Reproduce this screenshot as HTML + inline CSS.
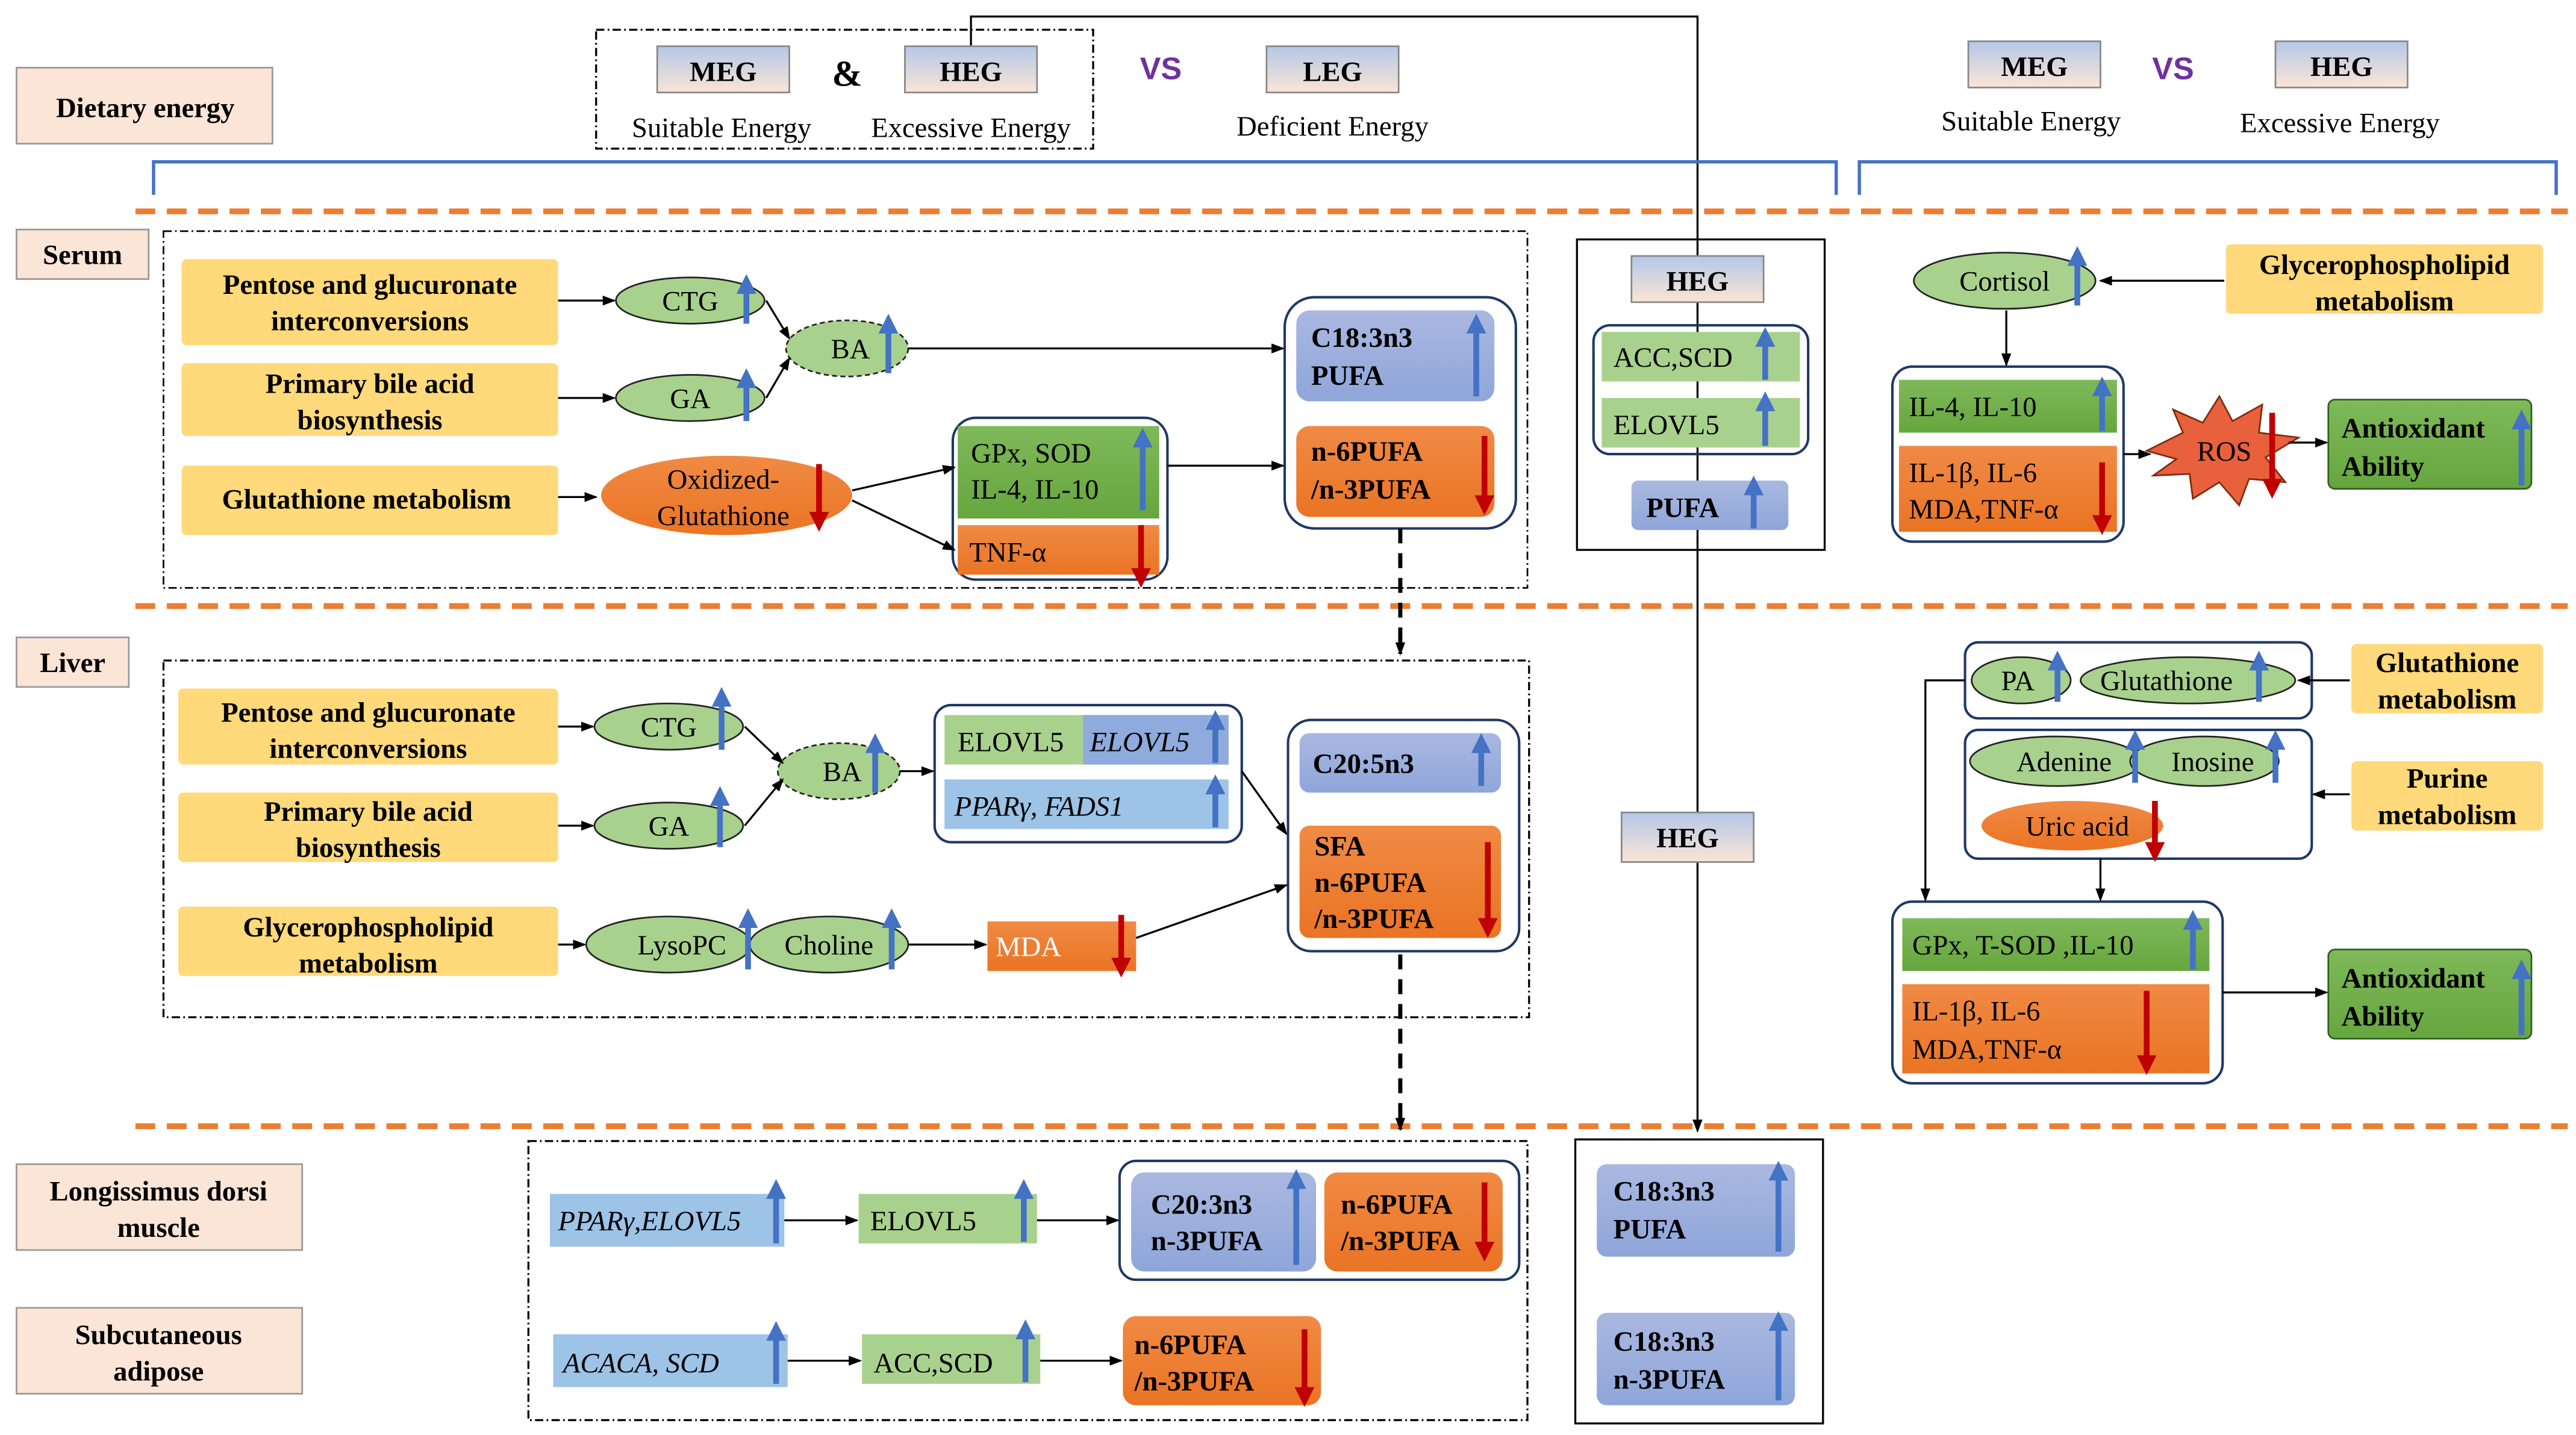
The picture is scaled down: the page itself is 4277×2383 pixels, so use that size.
<!DOCTYPE html>
<html><head><meta charset="utf-8"><style>
html,body{margin:0;padding:0;background:#fff;}
svg{display:block;}
text{font-family:"Liberation Serif",serif;}
.b{font-weight:bold;}
</style></head><body>
<svg width="4277" height="2383" viewBox="0 0 1560 869" preserveAspectRatio="none" xmlns="http://www.w3.org/2000/svg">
<defs>
<marker id="k" markerWidth="8" markerHeight="8" refX="7" refY="4" orient="auto" markerUnits="userSpaceOnUse"><path d="M0,1 L8,4 L0,7z" fill="#000"/></marker>
<marker id="bu" markerWidth="12" markerHeight="14" refX="6" refY="7" orient="auto" markerUnits="userSpaceOnUse"><path d="M0,1 L12,7 L0,13z" fill="#4472C4"/></marker>
<marker id="rd" markerWidth="12" markerHeight="14" refX="6" refY="7" orient="auto" markerUnits="userSpaceOnUse"><path d="M0,1 L12,7 L0,13z" fill="#C00000"/></marker>
<linearGradient id="hdr" x1="0" y1="0" x2="0" y2="1"><stop offset="0" stop-color="#B4C7E7"/><stop offset="1" stop-color="#FBE5D6"/></linearGradient>
<linearGradient id="bl" x1="0" y1="0" x2="0" y2="1"><stop offset="0" stop-color="#A9B8E0"/><stop offset="1" stop-color="#8FA6DA"/></linearGradient>
<linearGradient id="or" x1="0" y1="0" x2="0" y2="1"><stop offset="0" stop-color="#F08A44"/><stop offset="1" stop-color="#EA7424"/></linearGradient>
<linearGradient id="gr" x1="0" y1="0" x2="0" y2="1"><stop offset="0" stop-color="#7FB95A"/><stop offset="1" stop-color="#66A63E"/></linearGradient>
</defs>
<g fill="none" stroke="#000" stroke-width="1.2">
<!-- top -->
<rect x="361" y="18" width="301" height="72" stroke-dasharray="5,2,1,2"/>
<polyline points="588,28 588,10 1028,10 1028,685" marker-end="url(#k)"/>
</g>
<rect x="10" y="41" width="155" height="46" fill="#FBE5D6" stroke="#999"/>
<text x="88" y="71" font-size="17" text-anchor="middle" class="b">Dietary energy</text>
<rect x="398" y="28" width="80" height="28" fill="url(#hdr)" stroke="#888"/>
<text x="438" y="49" font-size="17" text-anchor="middle" class="b">MEG</text>
<text x="437" y="83" font-size="17" text-anchor="middle">Suitable Energy</text>
<text x="513" y="52" font-size="22" text-anchor="middle" class="b">&amp;</text>
<rect x="548" y="28" width="80" height="28" fill="url(#hdr)" stroke="#888"/>
<text x="588" y="49" font-size="17" text-anchor="middle" class="b">HEG</text>
<text x="588" y="83" font-size="17" text-anchor="middle">Excessive Energy</text>
<text x="703" y="48" font-size="19" text-anchor="middle" fill="#7030A0" class="b" style="font-family:'Liberation Sans',sans-serif">VS</text>
<rect x="767" y="28" width="80" height="28" fill="url(#hdr)" stroke="#888"/>
<text x="807" y="49" font-size="17" text-anchor="middle" class="b">LEG</text>
<text x="807" y="82" font-size="17" text-anchor="middle">Deficient Energy</text>
<rect x="1192" y="25" width="80" height="28" fill="url(#hdr)" stroke="#888"/>
<text x="1232" y="46" font-size="17" text-anchor="middle" class="b">MEG</text>
<text x="1230" y="79" font-size="17" text-anchor="middle">Suitable Energy</text>
<text x="1316" y="48" font-size="19" text-anchor="middle" fill="#7030A0" class="b" style="font-family:'Liberation Sans',sans-serif">VS</text>
<rect x="1378" y="25" width="80" height="28" fill="url(#hdr)" stroke="#888"/>
<text x="1418" y="46" font-size="17" text-anchor="middle" class="b">HEG</text>
<text x="1417" y="80" font-size="17" text-anchor="middle">Excessive Energy</text>
<g fill="none" stroke="#4472C4" stroke-width="2">
<polyline points="93,118 93,98 1112,98 1112,118"/>
<polyline points="1126,118 1126,98 1548,98 1548,118"/>
</g>
<g stroke="#ED7D31" stroke-width="3.5" stroke-dasharray="12,7">
<line x1="82" y1="128" x2="1555" y2="128"/>
<line x1="82" y1="367" x2="1555" y2="367"/>
<line x1="82" y1="682" x2="1555" y2="682"/>
</g>
<!-- labels -->
<rect x="10" y="139" width="80" height="30" fill="#FBE5D6" stroke="#999"/><text x="50" y="160" font-size="17" text-anchor="middle" class="b">Serum</text>
<rect x="10" y="386" width="68" height="30" fill="#FBE5D6" stroke="#999"/><text x="44" y="407" font-size="17" text-anchor="middle" class="b">Liver</text>
<rect x="10" y="705" width="173" height="52" fill="#FBE5D6" stroke="#999"/><text x="96" y="727" font-size="17" text-anchor="middle" class="b">Longissimus dorsi</text><text x="96" y="749" font-size="17" text-anchor="middle" class="b">muscle</text>
<rect x="10" y="792" width="173" height="52" fill="#FBE5D6" stroke="#999"/><text x="96" y="814" font-size="17" text-anchor="middle" class="b">Subcutaneous</text><text x="96" y="836" font-size="17" text-anchor="middle" class="b">adipose</text>

<!-- SERUM -->
<rect x="99" y="140" width="826" height="216" fill="none" stroke="#000" stroke-dasharray="5,2,1,2"/>
<g fill="#FFD97A">
<rect x="110" y="157" width="228" height="52" rx="3"/><rect x="110" y="220" width="228" height="44" rx="3"/><rect x="110" y="282" width="228" height="42" rx="3"/>
<rect x="108" y="417" width="230" height="46" rx="3"/><rect x="108" y="480" width="230" height="42" rx="3"/><rect x="108" y="549" width="230" height="42" rx="3"/>
<rect x="1348" y="148" width="192" height="42" rx="3"/><rect x="1424" y="390" width="116" height="42" rx="3"/><rect x="1424" y="461" width="116" height="42" rx="3"/>
</g>
<g font-size="17" text-anchor="middle" class="b">
<text x="224" y="178">Pentose and glucuronate</text><text x="224" y="200">interconversions</text>
<text x="224" y="238">Primary bile acid</text><text x="224" y="260">biosynthesis</text>
<text x="222" y="308">Glutathione metabolism</text>
<text x="223" y="437">Pentose and glucuronate</text><text x="223" y="459">interconversions</text>
<text x="223" y="497">Primary bile acid</text><text x="223" y="519">biosynthesis</text>
<text x="223" y="567">Glycerophospholipid</text><text x="223" y="589">metabolism</text>
<text x="1444" y="166">Glycerophospholipid</text><text x="1444" y="188">metabolism</text>
<text x="1482" y="407">Glutathione</text><text x="1482" y="429">metabolism</text>
<text x="1482" y="477">Purine</text><text x="1482" y="499">metabolism</text>
</g>
<g fill="#A9D18E" stroke="#222" stroke-width="1">
<ellipse cx="418" cy="182" rx="45" ry="14"/><ellipse cx="418" cy="241" rx="45" ry="14"/>
<ellipse cx="513" cy="211" rx="37" ry="17" stroke-dasharray="3,2"/>
<ellipse cx="405" cy="440" rx="45" ry="14"/><ellipse cx="405" cy="500" rx="45" ry="14"/>
<ellipse cx="508" cy="467" rx="37" ry="17" stroke-dasharray="3,2"/>
<ellipse cx="405" cy="572" rx="50" ry="17"/><ellipse cx="502" cy="572" rx="48" ry="17"/>
<ellipse cx="1214" cy="170" rx="55" ry="17"/>
<ellipse cx="1224" cy="412" rx="30" ry="14"/><ellipse cx="1325" cy="412" rx="65" ry="14"/>
<ellipse cx="1245" cy="461" rx="52" ry="15"/><ellipse cx="1335" cy="461" rx="45" ry="15"/>
</g>
<ellipse cx="440" cy="300" rx="76" ry="24" fill="url(#or)"/>
<ellipse cx="1255" cy="500" rx="55" ry="15" fill="url(#or)"/>
<g font-size="17" text-anchor="middle">
<text x="418" y="188">CTG</text><text x="418" y="247">GA</text><text x="515" y="217">BA</text>
<text x="438" y="296">Oxidized-</text><text x="438" y="318">Glutathione</text>
<text x="405" y="446">CTG</text><text x="405" y="506">GA</text><text x="510" y="473">BA</text>
<text x="413" y="578">LysoPC</text><text x="502" y="578">Choline</text>
<text x="1214" y="176">Cortisol</text>
<text x="1222" y="418">PA</text><text x="1312" y="418">Glutathione</text>
<text x="1250" y="467">Adenine</text><text x="1340" y="467">Inosine</text>
<text x="1258" y="506">Uric acid</text>
</g>
<!-- serum boxes -->
<g fill="none" stroke="#1F3864" stroke-width="1.5">
<rect x="577" y="253" width="130" height="98" rx="14"/>
<rect x="778" y="180" width="140" height="140" rx="18"/>
<rect x="965" y="197" width="130" height="78" rx="10"/>
<rect x="1146" y="222" width="140" height="106" rx="12"/>
<rect x="566" y="427" width="186" height="83" rx="10"/>
<rect x="780" y="436" width="140" height="140" rx="14"/>
<rect x="1190" y="389" width="210" height="46" rx="8"/>
<rect x="1190" y="442" width="210" height="78" rx="8"/>
<rect x="1146" y="546" width="200" height="110" rx="12"/>
<rect x="678" y="703" width="242" height="72" rx="10"/>
</g>
<g fill="none" stroke="#000" stroke-width="1.2">
<rect x="955" y="145" width="150" height="188"/>
<rect x="954" y="690" width="150" height="172"/>
<rect x="99" y="400" width="827" height="216" stroke-dasharray="5,2,1,2"/>
<rect x="320" y="691" width="605" height="169" stroke-dasharray="5,2,1,2"/>
</g>
<rect x="580" y="258" width="122" height="56" fill="url(#gr)"/>
<rect x="580" y="318" width="122" height="30" fill="url(#or)"/>
<rect x="785" y="188" width="120" height="55" rx="8" fill="url(#bl)"/>
<rect x="785" y="258" width="120" height="55" rx="8" fill="url(#or)"/>
<rect x="988" y="155" width="80" height="28" fill="url(#hdr)" stroke="#888"/>
<rect x="970" y="201" width="120" height="30" fill="#A9D18E"/>
<rect x="970" y="241" width="120" height="30" fill="#A9D18E"/>
<rect x="988" y="291" width="95" height="30" rx="4" fill="url(#bl)"/>
<rect x="1150" y="230" width="132" height="32" fill="url(#gr)"/>
<rect x="1150" y="270" width="132" height="52" fill="url(#or)"/>
<polygon points="1300,273 1322,262 1316,248 1334,256 1344,240 1352,255 1370,245 1368,262 1392,265 1372,277 1384,292 1362,290 1356,306 1344,292 1328,302 1326,287 1304,288 1318,278" fill="#E8603C" stroke="#7F2A10" stroke-width="1"/>
<rect x="1410" y="242" width="123" height="54" rx="4" fill="url(#gr)" stroke="#2E5F1B"/>
<rect x="1410" y="575" width="123" height="54" rx="4" fill="url(#gr)" stroke="#2E5F1B"/>
<!-- liver boxes -->
<rect x="572" y="433" width="172" height="30" fill="#A9D18E"/>
<rect x="656" y="433" width="88" height="30" fill="#8FAADC"/>
<rect x="572" y="472" width="172" height="30" fill="#9DC3E6"/>
<rect x="598" y="558" width="90" height="30" fill="url(#or)"/>
<rect x="787" y="444" width="122" height="36" rx="6" fill="url(#bl)"/>
<rect x="787" y="500" width="122" height="68" rx="6" fill="url(#or)"/>
<rect x="982" y="492" width="80" height="30" fill="url(#hdr)" stroke="#888"/>
<rect x="1152" y="556" width="186" height="32" fill="url(#gr)"/>
<rect x="1152" y="596" width="186" height="54" fill="url(#or)"/>
<!-- bottom -->
<rect x="333" y="723" width="142" height="32" fill="#9DC3E6"/>
<rect x="520" y="723" width="108" height="30" fill="#A9D18E"/>
<rect x="685" y="710" width="112" height="60" rx="8" fill="url(#bl)"/>
<rect x="802" y="710" width="108" height="60" rx="8" fill="url(#or)"/>
<rect x="335" y="808" width="142" height="32" fill="#9DC3E6"/>
<rect x="522" y="808" width="108" height="30" fill="#A9D18E"/>
<rect x="680" y="797" width="120" height="54" rx="8" fill="url(#or)"/>
<rect x="967" y="705" width="120" height="56" rx="6" fill="url(#bl)"/>
<rect x="967" y="795" width="120" height="56" rx="6" fill="url(#bl)"/>

<g font-size="17">
<text x="588" y="280">GPx, SOD</text><text x="588" y="302">IL-4, IL-10</text>
<text x="587" y="340">TNF-α</text>
<text x="794" y="210" class="b">C18:3n3</text><text x="794" y="233" class="b">PUFA</text>
<text x="794" y="279" class="b">n-6PUFA</text><text x="794" y="302" class="b">/n-3PUFA</text>
<text x="1028" y="176" text-anchor="middle" class="b">HEG</text>
<text x="977" y="222">ACC,SCD</text><text x="977" y="263">ELOVL5</text>
<text x="997" y="313" class="b">PUFA</text>
<text x="1156" y="252">IL-4, IL-10</text>
<text x="1156" y="292">IL-1β, IL-6</text><text x="1156" y="314">MDA,TNF-α</text>
<text x="1347" y="279" text-anchor="middle">ROS</text>
<text x="1418" y="265" class="b">Antioxidant</text><text x="1418" y="288" class="b">Ability</text>
<text x="1418" y="598" class="b">Antioxidant</text><text x="1418" y="621" class="b">Ability</text>
<text x="580" y="455">ELOVL5</text><text x="660" y="455" font-style="italic">ELOVL5</text>
<text x="578" y="494" font-style="italic">PPARγ,  FADS1</text>
<text x="603" y="579" fill="#fff">MDA</text>
<text x="795" y="468" class="b">C20:5n3</text>
<text x="796" y="518" class="b">SFA</text><text x="796" y="540" class="b">n-6PUFA</text><text x="796" y="562" class="b">/n-3PUFA</text>
<text x="1022" y="513" text-anchor="middle" class="b">HEG</text>
<text x="1158" y="578">GPx, T-SOD ,IL-10</text>
<text x="1158" y="618">IL-1β, IL-6</text><text x="1158" y="641">MDA,TNF-α</text>
<text x="338" y="745" font-style="italic">PPARγ,ELOVL5</text>
<text x="527" y="745">ELOVL5</text>
<text x="697" y="735" class="b">C20:3n3</text><text x="697" y="757" class="b">n-3PUFA</text>
<text x="812" y="735" class="b">n-6PUFA</text><text x="812" y="757" class="b">/n-3PUFA</text>
<text x="341" y="831" font-style="italic">ACACA,  SCD</text>
<text x="529" y="831">ACC,SCD</text>
<text x="687" y="820" class="b">n-6PUFA</text><text x="687" y="842" class="b">/n-3PUFA</text>
<text x="977" y="727" class="b">C18:3n3</text><text x="977" y="750" class="b">PUFA</text>
<text x="977" y="818" class="b">C18:3n3</text><text x="977" y="841" class="b">n-3PUFA</text>
</g>
<!-- black connectors -->
<g stroke="#000" stroke-width="1.2" fill="none" marker-end="url(#k)">
<line x1="338" y1="182" x2="372" y2="182"/><line x1="338" y1="241" x2="372" y2="241"/>
<line x1="464" y1="182" x2="478" y2="205"/><line x1="464" y1="241" x2="478" y2="217"/>
<line x1="550" y1="211" x2="777" y2="211"/>
<line x1="338" y1="301" x2="361" y2="301"/>
<line x1="516" y1="297" x2="578" y2="283"/><line x1="516" y1="303" x2="578" y2="333"/>
<line x1="707" y1="282" x2="777" y2="282"/>
<line x1="1347" y1="170" x2="1272" y2="170"/>
<line x1="1215" y1="188" x2="1215" y2="221"/>
<line x1="1286" y1="275" x2="1302" y2="275"/>
<line x1="1386" y1="268" x2="1409" y2="268"/>
<line x1="338" y1="440" x2="359" y2="440"/><line x1="338" y1="500" x2="359" y2="500"/>
<line x1="451" y1="440" x2="474" y2="462"/><line x1="451" y1="500" x2="474" y2="472"/>
<line x1="545" y1="467" x2="565" y2="467"/>
<line x1="752" y1="467" x2="779" y2="505"/>
<line x1="338" y1="572" x2="354" y2="572"/>
<line x1="550" y1="572" x2="597" y2="572"/>
<line x1="688" y1="568" x2="779" y2="536"/>
<line x1="1423" y1="412" x2="1392" y2="412"/>
<line x1="1423" y1="481" x2="1401" y2="481"/>
<polyline points="1190,412 1166,412 1166,545"/>
<line x1="1272" y1="520" x2="1272" y2="545"/>
<line x1="1346" y1="601" x2="1409" y2="601"/>
<line x1="475" y1="739" x2="519" y2="739"/><line x1="628" y1="739" x2="677" y2="739"/>
<line x1="477" y1="824" x2="521" y2="824"/><line x1="630" y1="824" x2="679" y2="824"/>
</g>
<g stroke="#000" stroke-width="2.5" stroke-dasharray="9,6" fill="none" marker-end="url(#k)">
<line x1="848" y1="320" x2="848" y2="396"/>
<line x1="848" y1="578" x2="848" y2="684"/>
</g>
<!-- up arrows -->
<g stroke="#4472C4" stroke-width="3.5" marker-end="url(#bu)">
<line x1="452" y1="196" x2="452" y2="172"/><line x1="452" y1="255" x2="452" y2="229"/>
<line x1="538" y1="226" x2="538" y2="196"/>
<line x1="692" y1="309" x2="692" y2="265"/>
<line x1="894" y1="240" x2="894" y2="196"/>
<line x1="1069" y1="230" x2="1069" y2="204"/><line x1="1069" y1="270" x2="1069" y2="243"/>
<line x1="1062" y1="320" x2="1062" y2="294"/>
<line x1="1258" y1="185" x2="1258" y2="155"/>
<line x1="1273" y1="261" x2="1273" y2="234"/>
<line x1="1527" y1="294" x2="1527" y2="254"/><line x1="1527" y1="627" x2="1527" y2="587"/>
<line x1="437" y1="454" x2="437" y2="422"/><line x1="436" y1="513" x2="436" y2="482"/>
<line x1="530" y1="480" x2="530" y2="450"/>
<line x1="736" y1="462" x2="736" y2="436"/><line x1="736" y1="501" x2="736" y2="475"/>
<line x1="453" y1="587" x2="453" y2="556"/><line x1="540" y1="587" x2="540" y2="556"/>
<line x1="897" y1="476" x2="897" y2="450"/>
<line x1="1246" y1="425" x2="1246" y2="400"/><line x1="1368" y1="425" x2="1368" y2="400"/>
<line x1="1293" y1="474" x2="1293" y2="448"/><line x1="1378" y1="474" x2="1378" y2="448"/>
<line x1="1328" y1="587" x2="1328" y2="557"/>
<line x1="470" y1="753" x2="470" y2="720"/><line x1="620" y1="752" x2="620" y2="720"/>
<line x1="785" y1="766" x2="785" y2="714"/>
<line x1="470" y1="838" x2="470" y2="806"/><line x1="621" y1="837" x2="621" y2="805"/>
<line x1="1077" y1="758" x2="1077" y2="709"/><line x1="1077" y1="848" x2="1077" y2="800"/>
</g>
<!-- down arrows -->
<g stroke="#C00000" stroke-width="3.5" marker-end="url(#rd)">
<line x1="496" y1="281" x2="496" y2="316"/>
<line x1="691" y1="318" x2="691" y2="350"/>
<line x1="899" y1="264" x2="899" y2="306"/>
<line x1="1273" y1="280" x2="1273" y2="318"/>
<line x1="1376" y1="250" x2="1376" y2="296"/>
<line x1="679" y1="554" x2="679" y2="586"/>
<line x1="901" y1="510" x2="901" y2="562"/>
<line x1="1305" y1="485" x2="1305" y2="516"/>
<line x1="1300" y1="600" x2="1300" y2="645"/>
<line x1="899" y1="716" x2="899" y2="758"/>
<line x1="790" y1="805" x2="790" y2="846"/>
</g>
</svg>
</body></html>
